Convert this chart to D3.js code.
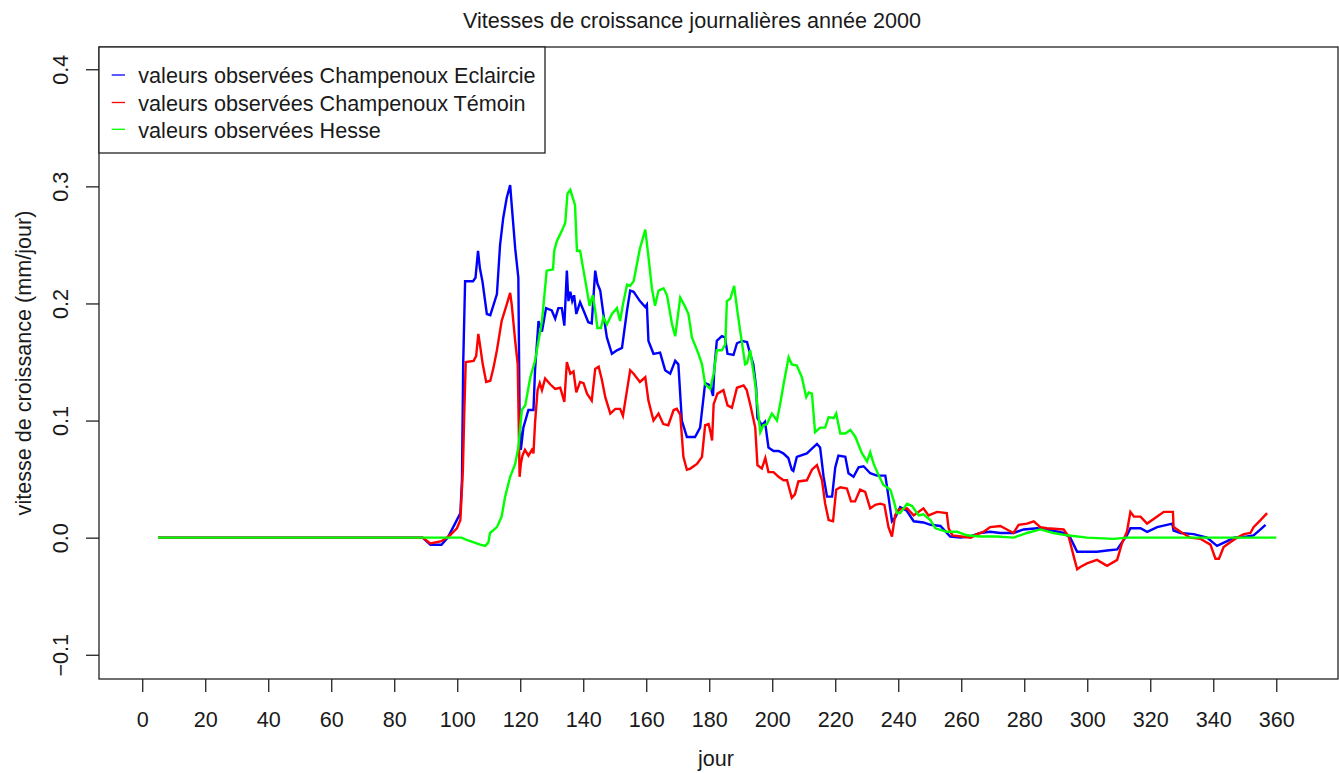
<!DOCTYPE html>
<html>
<head>
<meta charset="utf-8">
<script src="https://cdn.jsdelivr.net/npm/d3@7"></script>
<style>
  html, body { margin: 0; padding: 0; background: #fff; }
  svg text { font-family: "Liberation Sans", Arial, sans-serif; fill: #1a1a1a; }
</style>
</head>
<body>
<svg id="chart" width="1339" height="773"></svg>
<script>
// ---------- data ----------
const title = "Vitesses de croissance journalières année 2000";
const xLabel = "jour";
const yLabel = "vitesse de croissance (mm/jour)";
const xTicks = [0,20,40,60,80,100,120,140,160,180,200,220,240,260,280,300,320,340,360];
const yTicks = [-0.1, 0.0, 0.1, 0.2, 0.3, 0.4];
const seriesNames = ["valeurs observées Champenoux Eclaircie", "valeurs observées Champenoux Témoin", "valeurs observées Hesse"];
const seriesColors = ["#0000ff", "#ff0000", "#00ff00"];

const blueDay = [5,89,91.5,95,97,99.3,101,101.5,101.9,102.5,105,105.8,106.6,107.2,108,109.4,110.5,112.6,113.6,114.6,115.7,116.8,117.3,118.4,119.4,119.8,120.2,121,122.6,124.2,124.7,125.8,126.9,128.2,130,131.1,132.1,133.2,134,134.8,135.3,135.9,136.5,137.1,137.8,139,140.1,141.6,142.7,143.8,144.5,145.4,146.4,147.5,149.1,150.7,152.3,153.9,154.9,156,158,159.7,160.2,160.7,162.3,164.4,166,167.6,169.2,170.2,171.3,172.9,175.5,177.1,178.7,180.3,181.2,181.6,182.4,184,185,185.8,187.7,188.8,190.4,192,193,194,194.9,195.3,196.7,197.7,198.8,200.4,202,203.5,205.1,206.2,206.7,207.8,211,212.6,214.2,215.2,216.3,217.4,219,220,221,223.2,224.2,225.8,227.4,229,231.1,233.2,235.9,236.9,238,239,240.6,242.7,244.9,248,250.2,253.4,256.5,259.7,262.9,266,269.2,272.4,276.6,279.8,284.1,287.3,292.5,294.6,296.8,300,303.1,306.3,309.5,311,312.6,313.7,316.9,319,322.2,327,327.4,329.6,333.8,338,341.2,344.4,346.5,350.7,352.8,355,356.6];
const blueVal = [0,0,-0.006,-0.006,0,0.012,0.021,0.049,0.149,0.219,0.219,0.222,0.245,0.23,0.219,0.191,0.19,0.208,0.25,0.273,0.29,0.301,0.284,0.247,0.222,0.103,0.075,0.094,0.109,0.109,0.143,0.185,0.176,0.196,0.194,0.187,0.196,0.196,0.181,0.228,0.202,0.21,0.202,0.207,0.191,0.201,0.194,0.184,0.183,0.228,0.217,0.211,0.191,0.171,0.157,0.16,0.162,0.194,0.211,0.21,0.202,0.197,0.199,0.168,0.157,0.158,0.143,0.14,0.151,0.148,0.1,0.086,0.086,0.094,0.132,0.13,0.121,0.143,0.168,0.172,0.171,0.157,0.156,0.166,0.168,0.167,0.157,0.148,0.128,0.102,0.096,0.099,0.077,0.074,0.074,0.072,0.068,0.058,0.057,0.069,0.072,0.076,0.080,0.077,0.052,0.035,0.035,0.060,0.070,0.069,0.055,0.052,0.060,0.061,0.055,0.053,0.053,0.035,0.014,0.017,0.026,0.023,0.014,0.013,0.011,0.010,0.001,0.0,0.001,0.004,0.005,0.004,0.004,0.007,0.008,0.007,0.004,0.0,-0.012,-0.012,-0.012,-0.011,-0.010,-0.004,0.002,0.008,0.008,0.005,0.009,0.012,0.006,0.004,0.003,0.0,-0.007,-0.003,0.0,0.001,0.002,0.007,0.011];

const redDay = [5,89,91.5,95,97.7,99.9,101,101.8,102.2,102.7,105.2,106,106.7,107.2,108.1,109.2,110.5,111.5,112.6,114.1,115.7,116.8,117.3,118.4,119.2,119.8,120.2,120.7,121.5,122.6,123.7,124.2,124.7,125.5,126.2,126.9,127.9,129.5,131.1,132.7,134,134.8,135.9,136.9,137.8,139,140.1,141.2,142.7,143.8,144.9,145.9,147,148.6,150.2,151.7,152.6,153.9,154.9,156,158,159.7,160.7,162.3,163.9,165.4,167,168.7,169.7,170.8,171.8,172.9,174,176.1,177.7,178.7,179.8,180.5,180.9,181.4,182.6,184.5,185.8,187.2,188.8,190.9,191.9,193,194.6,195.3,196.7,197.8,198.8,200.4,202,203.6,204.7,206.2,207.2,208.3,211,212.6,214.2,215.8,216.8,217.9,219.3,220.3,221.6,223.7,225,226.3,227.9,229.5,231.1,232.7,234.3,235.6,236.9,238,238.5,239,240.1,242.8,244.9,248,249.6,252.3,255.4,256,257.2,260,263,265,267.1,269.2,272.4,274.5,276.6,278.2,280.9,283,285.1,287.2,292.5,294.1,295.7,296.8,297.8,299.9,303.1,306.3,309.5,311,312.6,313.7,314.8,316.9,319,322.2,324.3,327.2,327.4,329.6,332.7,335.9,339.1,340.7,341.8,343.3,345.4,347.5,349.7,351.8,352.8,355,357.1];
const redVal = [0,0,-0.005,-0.003,0.002,0.008,0.015,0.058,0.103,0.150,0.151,0.155,0.174,0.165,0.148,0.133,0.134,0.145,0.160,0.185,0.199,0.209,0.199,0.168,0.148,0.052,0.063,0.07,0.075,0.07,0.075,0.072,0.098,0.126,0.132,0.126,0.136,0.131,0.127,0.128,0.116,0.150,0.14,0.142,0.124,0.133,0.132,0.123,0.117,0.144,0.146,0.135,0.12,0.106,0.11,0.11,0.104,0.126,0.143,0.14,0.133,0.137,0.117,0.1,0.106,0.097,0.096,0.109,0.11,0.105,0.069,0.058,0.059,0.063,0.069,0.096,0.097,0.089,0.083,0.114,0.123,0.126,0.113,0.111,0.128,0.130,0.126,0.114,0.094,0.062,0.059,0.068,0.056,0.056,0.052,0.049,0.049,0.034,0.037,0.048,0.049,0.058,0.062,0.049,0.029,0.015,0.014,0.041,0.043,0.042,0.031,0.031,0.041,0.039,0.025,0.028,0.029,0.028,0.009,0.001,0.01,0.019,0.024,0.025,0.019,0.025,0.019,0.022,0.021,0.008,0.002,0.001,0.0,0.003,0.005,0.009,0.010,0.007,0.004,0.011,0.012,0.014,0.009,0.008,0.007,0.001,-0.016,-0.027,-0.025,-0.022,-0.019,-0.024,-0.019,-0.005,0.005,0.022,0.018,0.018,0.012,0.018,0.022,0.022,0.009,0.005,0.0,-0.001,-0.006,-0.018,-0.018,-0.008,-0.004,0.0,0.003,0.004,0.009,0.015,0.021];

const greenDay = [5,101.4,103,107.3,108.9,109.9,110.4,112.6,114.1,115.2,116.8,118.4,119.4,120.5,121.6,123.2,124.7,125.8,126.9,128.4,130.4,130.8,131.6,133.2,134.3,135,135.9,136.7,137.4,138,139,140.1,141.2,142,143,143.8,144.5,145.6,146.4,147.5,149.1,150.7,151.7,152.6,153.9,154.9,156,157,158,159.7,160.7,161.8,162.8,163.9,165.5,166.6,168.2,169.2,170.8,172.4,173.4,174.5,176.6,177.7,178.7,180.3,181.4,182.4,184,185.1,185.6,186.7,187.9,188.8,189.8,191.4,192,193,194.6,196.2,197.2,198.3,199.9,201.5,202.5,203.6,205.2,206.2,207.8,209.4,210.8,211.6,212.6,213.6,215.2,216.8,217.9,219.5,220.3,221.6,223.2,224.8,226.4,228.5,230.1,231.1,232.2,233.8,235.3,237.5,238.5,239.6,240.6,242.8,244.4,246.5,248,250.2,251.8,255.4,258.7,261.8,266,271.3,276.6,280.9,285.1,289.3,293.6,300,308.4,312.6,320,340,360];
const greenVal = [0,0,-0.002,-0.006,-0.007,-0.004,0.004,0.009,0.018,0.035,0.052,0.063,0.077,0.109,0.113,0.137,0.151,0.168,0.185,0.228,0.229,0.245,0.253,0.262,0.269,0.294,0.297,0.29,0.284,0.245,0.245,0.228,0.211,0.198,0.207,0.194,0.179,0.179,0.188,0.182,0.191,0.196,0.185,0.199,0.216,0.215,0.219,0.233,0.247,0.263,0.24,0.213,0.198,0.211,0.213,0.207,0.182,0.172,0.205,0.197,0.191,0.171,0.157,0.148,0.131,0.127,0.140,0.16,0.16,0.165,0.202,0.204,0.215,0.196,0.177,0.148,0.149,0.16,0.131,0.090,0.096,0.097,0.106,0.1,0.114,0.131,0.154,0.148,0.147,0.137,0.120,0.124,0.123,0.090,0.094,0.094,0.103,0.102,0.106,0.089,0.089,0.092,0.086,0.072,0.065,0.073,0.063,0.053,0.045,0.041,0.032,0.021,0.021,0.029,0.027,0.019,0.02,0.015,0.008,0.005,0.005,0.002,0.001,0.001,0.0,0.004,0.007,0.004,0.002,0.0,-0.001,0.0,0.0,0.0,0.0];

// ---------- layout ----------
const svg = d3.select("#chart");
const plot = {left: 99, right: 1338, top: 47, bottom: 679};
const x = d3.scaleLinear().domain([-13.72, 379.6]).range([plot.left, plot.right]);
const y = d3.scaleLinear().domain([-0.1207, 0.419]).range([plot.bottom, plot.top]);
const FS = 21.6;

const series = [
  {days: blueDay, vals: blueVal},
  {days: redDay, vals: redVal},
  {days: greenDay, vals: greenVal}
];

svg.append("clipPath").attr("id", "clip").append("rect")
  .attr("x", plot.left).attr("y", plot.top)
  .attr("width", plot.right - plot.left).attr("height", plot.bottom - plot.top);

const line = d3.line().x(d => x(d[0])).y(d => y(d[1]));
const g = svg.append("g").attr("clip-path", "url(#clip)");
series.forEach((s, i) => {
  const pts = s.days.map((d, j) => [d, s.vals[j]]);
  g.append("path").datum(pts)
    .attr("d", line)
    .attr("fill", "none")
    .attr("stroke", seriesColors[i])
    .attr("stroke-width", 2.4)
    .attr("stroke-linejoin", "miter");
});

svg.append("rect")
  .attr("x", plot.left).attr("y", plot.top)
  .attr("width", plot.right - plot.left).attr("height", plot.bottom - plot.top)
  .attr("fill", "none").attr("stroke", "#222").attr("stroke-width", 1.3);

const xAxis = d3.axisBottom(x).tickValues(xTicks).tickSize(13).tickPadding(0).tickFormat(d3.format("d"));
const gx = svg.append("g").attr("transform", `translate(0,${plot.bottom})`).call(xAxis);
gx.select(".domain").remove();
gx.selectAll(".tick line").attr("stroke", "#222").attr("stroke-width", 1.3);
gx.selectAll(".tick text").attr("font-size", FS).attr("dy", null).attr("y", 47.7)
  .attr("font-family", "Liberation Sans, Arial, sans-serif").attr("fill", "#1a1a1a");

const yAxis = d3.axisLeft(y).tickValues(yTicks).tickSize(13).tickFormat(d3.format(".1f"));
const gy = svg.append("g").attr("transform", `translate(${plot.left},0)`).call(yAxis);
gy.select(".domain").remove();
gy.selectAll(".tick line").attr("stroke", "#222").attr("stroke-width", 1.3);
gy.selectAll(".tick text")
  .attr("font-size", FS).attr("font-family", "Liberation Sans, Arial, sans-serif").attr("fill", "#1a1a1a")
  .attr("x", null).attr("dy", null)
  .attr("text-anchor", "middle")
  .attr("transform", "translate(-31,0) rotate(-90)");

svg.append("text").attr("x", 692).attr("y", 27.5).attr("text-anchor", "middle")
  .attr("font-size", FS).text(title);
svg.append("text").attr("x", 716).attr("y", 766).attr("text-anchor", "middle")
  .attr("font-size", FS).text(xLabel);
svg.append("text").attr("transform", `translate(31,363) rotate(-90)`).attr("text-anchor", "middle")
  .attr("font-size", FS).text(yLabel);

const leg = {x: 99, y: 47, w: 446, h: 106};
svg.append("rect").attr("x", leg.x).attr("y", leg.y).attr("width", leg.w).attr("height", leg.h)
  .attr("fill", "#fff").attr("stroke", "#222").attr("stroke-width", 1.3);
const rowY = [75, 102.5, 129.3];
seriesNames.forEach((name, i) => {
  svg.append("line").attr("x1", 111.7).attr("x2", 125).attr("y1", rowY[i]).attr("y2", rowY[i])
    .attr("stroke", seriesColors[i]).attr("stroke-width", 1.3);
  svg.append("text").attr("x", 138.3).attr("y", rowY[i] + 8.3).attr("font-size", FS).text(name);
});
</script>
</body>
</html>
